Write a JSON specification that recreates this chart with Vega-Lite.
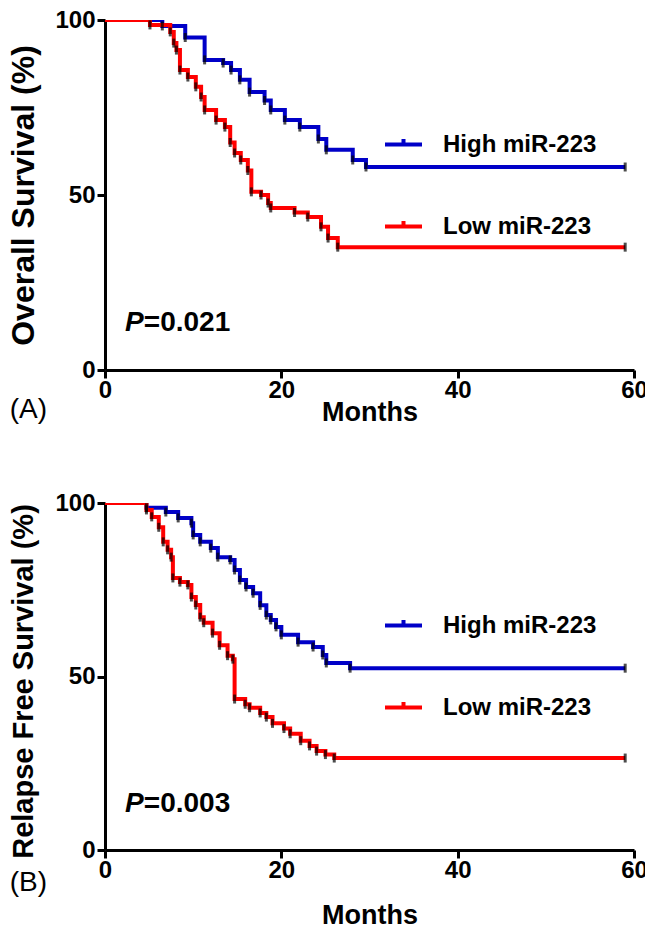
{
  "$schema": "https://vega.github.io/schema/vega-lite/v6.json",
  "padding": {"left": 7, "top": 8, "right": 0, "bottom": 0},
  "background": "white",
  "config": {
    "font": "Liberation Sans",
    "view": {"stroke": null},
    "axis": {
      "grid": false,
      "domainColor": "black",
      "domainWidth": 3,
      "tickColor": "black",
      "tickWidth": 3,
      "tickSize": 8,
      "labelColor": "black",
      "labelFont": "Liberation Sans",
      "labelFontSize": 24,
      "labelFontWeight": "bold",
      "labelPadding": 2,
      "labelFlush": false,
      "titleColor": "black",
      "titleFont": "Liberation Sans",
      "titleFontWeight": "bold"
    }
  },
  "datasets": {
    "km": [
      {"p": "A", "g": "High miR-223", "m": 0, "s": 100},
      {"p": "A", "g": "High miR-223", "m": 6.5, "s": 98.3},
      {"p": "A", "g": "High miR-223", "m": 9.1, "s": 95},
      {"p": "A", "g": "High miR-223", "m": 11.3, "s": 88.6},
      {"p": "A", "g": "High miR-223", "m": 13.4, "s": 87.7},
      {"p": "A", "g": "High miR-223", "m": 14.3, "s": 85.7},
      {"p": "A", "g": "High miR-223", "m": 15.3, "s": 82.9},
      {"p": "A", "g": "High miR-223", "m": 16.4, "s": 79.4},
      {"p": "A", "g": "High miR-223", "m": 18.1, "s": 77},
      {"p": "A", "g": "High miR-223", "m": 18.8, "s": 74.3},
      {"p": "A", "g": "High miR-223", "m": 20.4, "s": 71.4},
      {"p": "A", "g": "High miR-223", "m": 22.1, "s": 69.4},
      {"p": "A", "g": "High miR-223", "m": 24.2, "s": 66},
      {"p": "A", "g": "High miR-223", "m": 25.1, "s": 62.9},
      {"p": "A", "g": "High miR-223", "m": 28.1, "s": 60},
      {"p": "A", "g": "High miR-223", "m": 29.6, "s": 58},
      {"p": "A", "g": "High miR-223", "m": 59, "s": 58},
      {"p": "A", "g": "Low miR-223", "m": 0, "s": 100},
      {"p": "A", "g": "Low miR-223", "m": 5.1, "s": 98.6},
      {"p": "A", "g": "Low miR-223", "m": 7.4, "s": 96.6},
      {"p": "A", "g": "Low miR-223", "m": 7.8, "s": 93.4},
      {"p": "A", "g": "Low miR-223", "m": 8.1, "s": 91.4},
      {"p": "A", "g": "Low miR-223", "m": 8.5, "s": 85.7},
      {"p": "A", "g": "Low miR-223", "m": 9.4, "s": 83.7},
      {"p": "A", "g": "Low miR-223", "m": 10.3, "s": 80.9},
      {"p": "A", "g": "Low miR-223", "m": 10.9, "s": 78},
      {"p": "A", "g": "Low miR-223", "m": 11.3, "s": 74.3},
      {"p": "A", "g": "Low miR-223", "m": 12.6, "s": 71.4},
      {"p": "A", "g": "Low miR-223", "m": 13.6, "s": 69.4},
      {"p": "A", "g": "Low miR-223", "m": 14.2, "s": 65},
      {"p": "A", "g": "Low miR-223", "m": 14.7, "s": 62},
      {"p": "A", "g": "Low miR-223", "m": 15.4, "s": 60},
      {"p": "A", "g": "Low miR-223", "m": 16.2, "s": 57},
      {"p": "A", "g": "Low miR-223", "m": 16.6, "s": 50.9},
      {"p": "A", "g": "Low miR-223", "m": 17.7, "s": 50},
      {"p": "A", "g": "Low miR-223", "m": 18.5, "s": 47.7},
      {"p": "A", "g": "Low miR-223", "m": 18.8, "s": 46.3},
      {"p": "A", "g": "Low miR-223", "m": 21.5, "s": 45},
      {"p": "A", "g": "Low miR-223", "m": 23, "s": 43.7},
      {"p": "A", "g": "Low miR-223", "m": 24.5, "s": 40.9},
      {"p": "A", "g": "Low miR-223", "m": 25.3, "s": 37.7},
      {"p": "A", "g": "Low miR-223", "m": 26.4, "s": 35.1},
      {"p": "A", "g": "Low miR-223", "m": 59, "s": 35.1},
      {"p": "B", "g": "High miR-223", "m": 0, "s": 100},
      {"p": "B", "g": "High miR-223", "m": 4.7, "s": 98.6},
      {"p": "B", "g": "High miR-223", "m": 6.9, "s": 97.4},
      {"p": "B", "g": "High miR-223", "m": 8.3, "s": 95.7},
      {"p": "B", "g": "High miR-223", "m": 9.8, "s": 94.2},
      {"p": "B", "g": "High miR-223", "m": 10.0, "s": 90.8},
      {"p": "B", "g": "High miR-223", "m": 10.8, "s": 88.8},
      {"p": "B", "g": "High miR-223", "m": 12.0, "s": 87},
      {"p": "B", "g": "High miR-223", "m": 12.8, "s": 84.4},
      {"p": "B", "g": "High miR-223", "m": 14.2, "s": 83.6},
      {"p": "B", "g": "High miR-223", "m": 14.7, "s": 80.7},
      {"p": "B", "g": "High miR-223", "m": 15.3, "s": 77.8},
      {"p": "B", "g": "High miR-223", "m": 16.0, "s": 75.8},
      {"p": "B", "g": "High miR-223", "m": 16.8, "s": 74},
      {"p": "B", "g": "High miR-223", "m": 17.6, "s": 70.5},
      {"p": "B", "g": "High miR-223", "m": 18.3, "s": 67.7},
      {"p": "B", "g": "High miR-223", "m": 18.8, "s": 66.3},
      {"p": "B", "g": "High miR-223", "m": 19.4, "s": 64.3},
      {"p": "B", "g": "High miR-223", "m": 20.0, "s": 62},
      {"p": "B", "g": "High miR-223", "m": 21.9, "s": 59.9},
      {"p": "B", "g": "High miR-223", "m": 23.6, "s": 58.5},
      {"p": "B", "g": "High miR-223", "m": 24.7, "s": 56.2},
      {"p": "B", "g": "High miR-223", "m": 25.1, "s": 53.9},
      {"p": "B", "g": "High miR-223", "m": 27.8, "s": 52.4},
      {"p": "B", "g": "High miR-223", "m": 59, "s": 52.4},
      {"p": "B", "g": "Low miR-223", "m": 0, "s": 100},
      {"p": "B", "g": "Low miR-223", "m": 4.7, "s": 98},
      {"p": "B", "g": "Low miR-223", "m": 5.3, "s": 96},
      {"p": "B", "g": "Low miR-223", "m": 6.1, "s": 93},
      {"p": "B", "g": "Low miR-223", "m": 6.6, "s": 88.8},
      {"p": "B", "g": "Low miR-223", "m": 7.1, "s": 86.5},
      {"p": "B", "g": "Low miR-223", "m": 7.5, "s": 84.4},
      {"p": "B", "g": "Low miR-223", "m": 7.7, "s": 78.4},
      {"p": "B", "g": "Low miR-223", "m": 8.5, "s": 77.2},
      {"p": "B", "g": "Low miR-223", "m": 9.4, "s": 76.4},
      {"p": "B", "g": "Low miR-223", "m": 9.8, "s": 72.9},
      {"p": "B", "g": "Low miR-223", "m": 10.3, "s": 70.6},
      {"p": "B", "g": "Low miR-223", "m": 10.8, "s": 67.1},
      {"p": "B", "g": "Low miR-223", "m": 11.2, "s": 65.5},
      {"p": "B", "g": "Low miR-223", "m": 12.2, "s": 62.5},
      {"p": "B", "g": "Low miR-223", "m": 13.0, "s": 59},
      {"p": "B", "g": "Low miR-223", "m": 13.9, "s": 56},
      {"p": "B", "g": "Low miR-223", "m": 14.5, "s": 55},
      {"p": "B", "g": "Low miR-223", "m": 14.7, "s": 43.5},
      {"p": "B", "g": "Low miR-223", "m": 15.9, "s": 42},
      {"p": "B", "g": "Low miR-223", "m": 16.4, "s": 41},
      {"p": "B", "g": "Low miR-223", "m": 17.6, "s": 39.5},
      {"p": "B", "g": "Low miR-223", "m": 18.3, "s": 38.3},
      {"p": "B", "g": "Low miR-223", "m": 19.0, "s": 36.5},
      {"p": "B", "g": "Low miR-223", "m": 20.3, "s": 35},
      {"p": "B", "g": "Low miR-223", "m": 21.0, "s": 33.5},
      {"p": "B", "g": "Low miR-223", "m": 22.2, "s": 31.5},
      {"p": "B", "g": "Low miR-223", "m": 23.2, "s": 30},
      {"p": "B", "g": "Low miR-223", "m": 24.0, "s": 28.5},
      {"p": "B", "g": "Low miR-223", "m": 25.0, "s": 27.5},
      {"p": "B", "g": "Low miR-223", "m": 26.0, "s": 26.5},
      {"p": "B", "g": "Low miR-223", "m": 59, "s": 26.5}
    ],
    "notes": [
      {"p": "A", "kind": "P", "m": 4.4, "s": 13.4, "t": "P"},
      {"p": "A", "kind": "val", "m": 4.4, "s": 13.4, "t": "=0.021"},
      {"p": "A", "kind": "panel", "m": -10.8, "s": -11.4, "t": "(A)"},
      {"p": "B", "kind": "P", "m": 4.4, "s": 13.3, "t": "P"},
      {"p": "B", "kind": "val", "m": 4.4, "s": 13.3, "t": "=0.003"},
      {"p": "B", "kind": "panel", "m": -10.8, "s": -9.6, "t": "(B)"}
    ]
  },
  "vconcat": [
    {
      "width": 529,
      "height": 350,
      "layer": [
        {
          "data": {"name": "km"},
          "transform": [{"filter": "datum.p == 'A'"}],
          "mark": {"type": "line", "interpolate": "step-after", "strokeWidth": 4, "clip": true, "strokeCap": "butt"},
          "encoding": {
            "x": {"field": "m", "type": "quantitative", "scale": {"domain": [0, 60], "nice": false}, "axis": {"values": [0, 20, 40, 60], "title": "Months", "titleFontSize": 27, "titlePadding": -3, "labelPadding": 0}},
            "y": {"field": "s", "type": "quantitative", "scale": {"domain": [0, 100], "nice": false}, "axis": {"values": [0, 50, 100], "title": "Overall Survival (%)", "titleFontSize": 32, "titlePadding": 14}},
            "color": {"field": "g", "type": "nominal", "scale": {"domain": ["High miR-223", "Low miR-223"], "range": ["#0000c8", "#ff0000"]},
              "legend": {"orient": "none", "legendX": 278, "legendY": 104, "title": null, "symbolType": "M-1,0H1M0,0V-0.3", "symbolSize": 1369, "symbolStrokeWidth": 4, "labelFontSize": 24, "labelFontWeight": "bold", "labelColor": "black", "labelFont": "Liberation Sans", "labelOffset": 19, "rowPadding": 49, "padding": 0}}
          }
        },
        {
          "data": {"name": "km"},
          "transform": [{"filter": "datum.p == 'A' && datum.m > 0"}],
          "mark": {"type": "tick", "orient": "vertical", "color": "black", "thickness": 3, "size": 9},
          "encoding": {
            "x": {"field": "m", "type": "quantitative"},
            "y": {"field": "s", "type": "quantitative"}
          }
        },
        {
          "data": {"name": "notes"},
          "transform": [{"filter": "datum.p == 'A' && datum.kind == 'P'"}],
          "mark": {"type": "text", "align": "right", "baseline": "middle", "fontSize": 28, "fontWeight": "bold", "fontStyle": "italic", "color": "black"},
          "encoding": {"x": {"field": "m", "type": "quantitative"}, "y": {"field": "s", "type": "quantitative"}, "text": {"field": "t"}}
        },
        {
          "data": {"name": "notes"},
          "transform": [{"filter": "datum.p == 'A' && datum.kind == 'val'"}],
          "mark": {"type": "text", "align": "left", "baseline": "middle", "fontSize": 28, "fontWeight": "bold", "color": "black"},
          "encoding": {"x": {"field": "m", "type": "quantitative"}, "y": {"field": "s", "type": "quantitative"}, "text": {"field": "t"}}
        },
        {
          "data": {"name": "notes"},
          "transform": [{"filter": "datum.p == 'A' && datum.kind == 'panel'"}],
          "mark": {"type": "text", "align": "left", "baseline": "middle", "fontSize": 28, "fontWeight": "normal", "color": "black"},
          "encoding": {"x": {"field": "m", "type": "quantitative"}, "y": {"field": "s", "type": "quantitative"}, "text": {"field": "t"}}
        }
      ]
    },
    {
      "width": 529,
      "height": 347,
      "layer": [
        {
          "data": {"name": "km"},
          "transform": [{"filter": "datum.p == 'B'"}],
          "mark": {"type": "line", "interpolate": "step-after", "strokeWidth": 4, "clip": true, "strokeCap": "butt"},
          "encoding": {
            "x": {"field": "m", "type": "quantitative", "scale": {"domain": [0, 60], "nice": false}, "axis": {"values": [0, 20, 40, 60], "title": "Months", "titleFontSize": 27, "titlePadding": 20, "labelPadding": 0}},
            "y": {"field": "s", "type": "quantitative", "scale": {"domain": [0, 100], "nice": false}, "axis": {"values": [0, 50, 100], "title": "Relapse Free Survival (%)", "titleFontSize": 29, "titlePadding": 16, "titleY": 178}},
            "color": {"field": "g", "type": "nominal", "scale": {"domain": ["High miR-223", "Low miR-223"], "range": ["#0000c8", "#ff0000"]},
              "legend": {"orient": "none", "legendX": 278, "legendY": 102, "title": null, "symbolType": "M-1,0H1M0,0V-0.3", "symbolSize": 1369, "symbolStrokeWidth": 4, "labelFontSize": 24, "labelFontWeight": "bold", "labelColor": "black", "labelFont": "Liberation Sans", "labelOffset": 19, "rowPadding": 49, "padding": 0}}
          }
        },
        {
          "data": {"name": "km"},
          "transform": [{"filter": "datum.p == 'B' && datum.m > 0"}],
          "mark": {"type": "tick", "orient": "vertical", "color": "black", "thickness": 3, "size": 9},
          "encoding": {
            "x": {"field": "m", "type": "quantitative"},
            "y": {"field": "s", "type": "quantitative"}
          }
        },
        {
          "data": {"name": "notes"},
          "transform": [{"filter": "datum.p == 'B' && datum.kind == 'P'"}],
          "mark": {"type": "text", "align": "right", "baseline": "middle", "fontSize": 28, "fontWeight": "bold", "fontStyle": "italic", "color": "black"},
          "encoding": {"x": {"field": "m", "type": "quantitative"}, "y": {"field": "s", "type": "quantitative"}, "text": {"field": "t"}}
        },
        {
          "data": {"name": "notes"},
          "transform": [{"filter": "datum.p == 'B' && datum.kind == 'val'"}],
          "mark": {"type": "text", "align": "left", "baseline": "middle", "fontSize": 28, "fontWeight": "bold", "color": "black"},
          "encoding": {"x": {"field": "m", "type": "quantitative"}, "y": {"field": "s", "type": "quantitative"}, "text": {"field": "t"}}
        },
        {
          "data": {"name": "notes"},
          "transform": [{"filter": "datum.p == 'B' && datum.kind == 'panel'"}],
          "mark": {"type": "text", "align": "left", "baseline": "middle", "fontSize": 28, "fontWeight": "normal", "color": "black"},
          "encoding": {"x": {"field": "m", "type": "quantitative"}, "y": {"field": "s", "type": "quantitative"}, "text": {"field": "t"}}
        }
      ]
    }
  ],
  "spacing": 66,
  "resolve": {"scale": {"color": "independent"}, "legend": {"color": "independent"}}
}
